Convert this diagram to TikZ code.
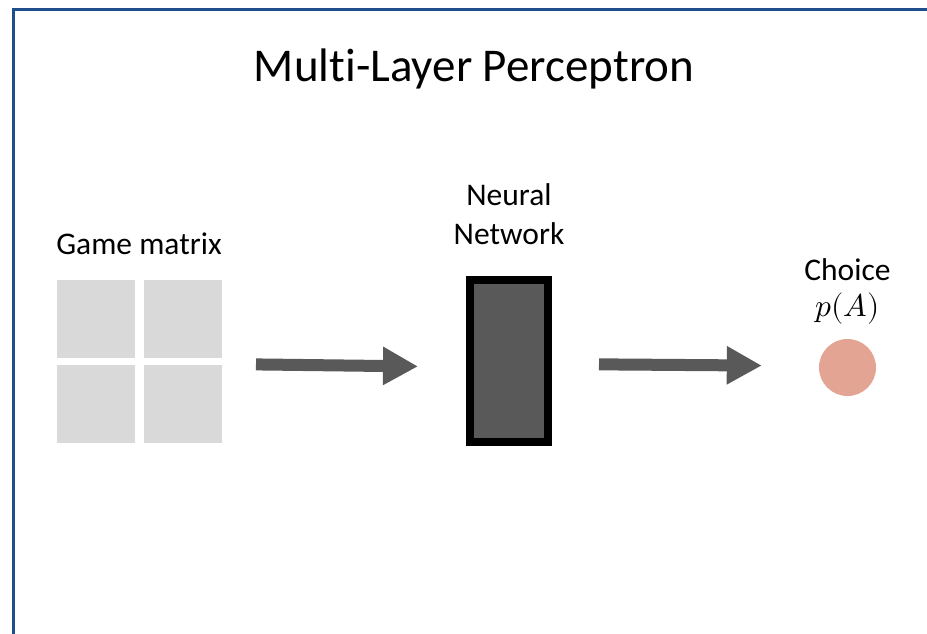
\documentclass[tikz,border=0pt]{standalone}
\usepackage{fontspec}
\usepackage{unicode-math}
\setmainfont{Carlito}[RawFeature={-liga;-clig;-dlig;-calt}]
\setmathfont{Latin Modern Math}
\usetikzlibrary{positioning,calc,arrows.meta}
\definecolor{frameblue}{RGB}{31,78,140}
\definecolor{netgray}{RGB}{89,89,89}
\definecolor{cellgray}{RGB}{217,217,217}
\definecolor{choicered}{RGB}{227,164,147}
\begin{document}
\begin{tikzpicture}[x=1pt,y=-1pt,
  cell/.style={fill=cellgray, minimum size=78pt, inner sep=0pt, outer sep=0pt},
  txt/.style={font=\fontsize{31.5}{39}\selectfont, inner sep=0pt},
  flow/.style={line width=12pt, draw=netgray, -{Triangle[length=35pt,width=36pt]}}]
\useasboundingbox (0,0) rectangle (927,634) ;
\draw [frameblue, line width=3pt] (13.5,634) -- (13.5,9.3) -- (927,9.3) ;
\node [font=\fontsize{47}{56}\selectfont, inner sep=0pt, anchor=base] (title) at (474,81.7) {Multi-Layer Perceptron} ;
% game matrix
\node [cell] (m11) at (96,319) {} ;
\node [cell, right=9pt of m11] (m12) {} ;
\node [cell, below=7pt of m11] (m21) {} ;
\node [cell, below=7pt of m12] (m22) {} ;
\node [txt, anchor=base] (game) at (139,254) {Game matrix} ;
% network
\node [draw=black, line width=8pt, fill=netgray, minimum width=78pt, minimum height=162pt, inner sep=0pt] (net) at (509,361) {} ;
\node [txt, align=center, above=31pt of net] (nettxt) {Neural\\Network} ;
% choice
\node [circle, fill=choicered, minimum size=57pt, inner sep=0pt] (dot) at (847.5,367.5) {} ;
\node [txt, font=\fontsize{31.5}{36}\selectfont, align=center, above=14pt of dot] (choice) {Choice\\$p(A)$} ;
\draw [flow, shorten <=34pt, shorten >=48pt] ([yshift=-2.5pt]$(m12.east)!.5!(m22.east)$) -- ([yshift=-6pt]net.west) ;
\draw [flow, shorten <=47pt, shorten >=57pt] ([yshift=-3pt]net.east) -- ([yshift=1.5pt]dot.west) ;
\end{tikzpicture}
\end{document}
